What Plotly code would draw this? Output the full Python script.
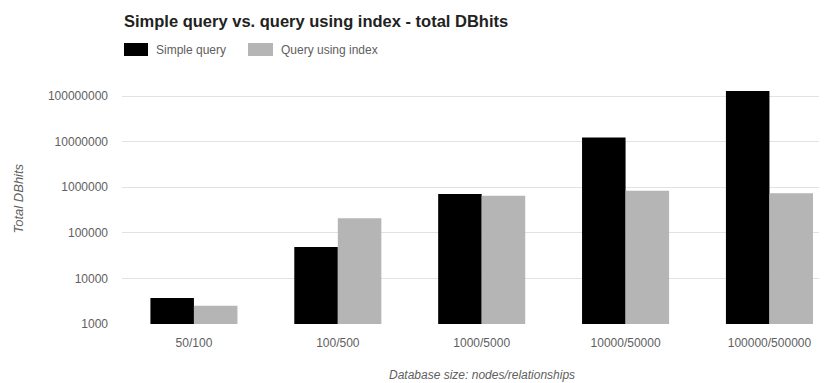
import plotly.graph_objects as go

categories = ["50/100", "100/500", "1000/5000", "10000/50000", "100000/500000"]
simple_query = [3700, 49000, 710000, 12400000, 130000000]
query_index = [2500, 210000, 650000, 840000, 740000]
tick_vals = [1000, 10000, 100000, 1000000, 10000000, 100000000]
tick_text = ["1000", "10000", "100000", "1000000", "10000000", "100000000"]

OFF = 8  # default page body margin
W, H = 827 - OFF, 383 - OFF
# plot area in reference (window) pixels
PL, PR, PT, PB = 122, 827, 87, 324
L, R, T, B = PL - OFF, 827 - PR, PT - OFF, 383 - PB
PW, PH = PR - PL, PB - PT

def px(x):
    return (x - PL) / PW

def py(y):
    return (PB - y) / PH

FONT = "Liberation Sans, Arial, sans-serif"
TXT = "#606060"

fig = go.Figure()
fig.add_trace(go.Bar(x=categories, y=simple_query, name="Simple query",
                     marker=dict(color="#000000", line=dict(width=0))))
fig.add_trace(go.Bar(x=categories, y=query_index, name="Query using index",
                     marker=dict(color="#b5b5b5", line=dict(width=0))))

fig.update_layout(
    width=W, height=H,
    margin=dict(l=L, r=R, t=T, b=B, autoexpand=False),
    paper_bgcolor="white", plot_bgcolor="white",
    barmode="group", bargap=0.395, bargroupgap=0,
    showlegend=False,
    font=dict(family=FONT, size=12, color=TXT),
    title=dict(text="<b>Simple query vs. query using index - total DBhits</b>",
               font=dict(family=FONT, size=16.5, color="#222222"),
               xref="paper", x=px(124), xanchor="left",
               yref="container", y=1 - (21 - OFF) / H, yanchor="middle"),
    xaxis=dict(type="category", range=[-0.5, 4.4], showgrid=False,
               showline=False, ticks="", ticklabelstandoff=10,
               tickfont=dict(size=12, color=TXT)),
    yaxis=dict(type="log", range=[3, 8.2], tickvals=tick_vals, ticktext=tick_text,
               showgrid=True, gridcolor="#e2e2e2", gridwidth=1,
               showline=False, ticks="", ticklabelstandoff=13,
               tickfont=dict(size=12, color=TXT)),
)

# legend (custom, wide swatches)
fig.add_shape(type="rect", xref="paper", yref="paper",
              x0=px(124), x1=px(148), y0=py(56), y1=py(43),
              fillcolor="#000000", line=dict(width=0))
fig.add_shape(type="rect", xref="paper", yref="paper",
              x0=px(248), x1=px(273), y0=py(56), y1=py(43),
              fillcolor="#b5b5b5", line=dict(width=0))
fig.add_annotation(text="Simple query", xref="paper", yref="paper",
                   x=px(154), y=py(49.5), xanchor="left", yanchor="middle",
                   showarrow=False, font=dict(size=12, color=TXT))
fig.add_annotation(text="Query using index", xref="paper", yref="paper",
                   x=px(279), y=py(49.5), xanchor="left", yanchor="middle",
                   showarrow=False, font=dict(size=12, color=TXT))

# axis titles
fig.add_annotation(text="<i>Total DBhits</i>", xref="paper", yref="paper",
                   x=px(18), y=py(198.5), xanchor="center", yanchor="middle",
                   textangle=-90, showarrow=False,
                   font=dict(size=13, color=TXT))
fig.add_annotation(text="<i>Database size: nodes/relationships</i>", xref="paper", yref="paper",
                   x=px(482), y=py(375), xanchor="center", yanchor="middle",
                   showarrow=False, font=dict(size=12, color=TXT))

fig.write_html("out.html")
